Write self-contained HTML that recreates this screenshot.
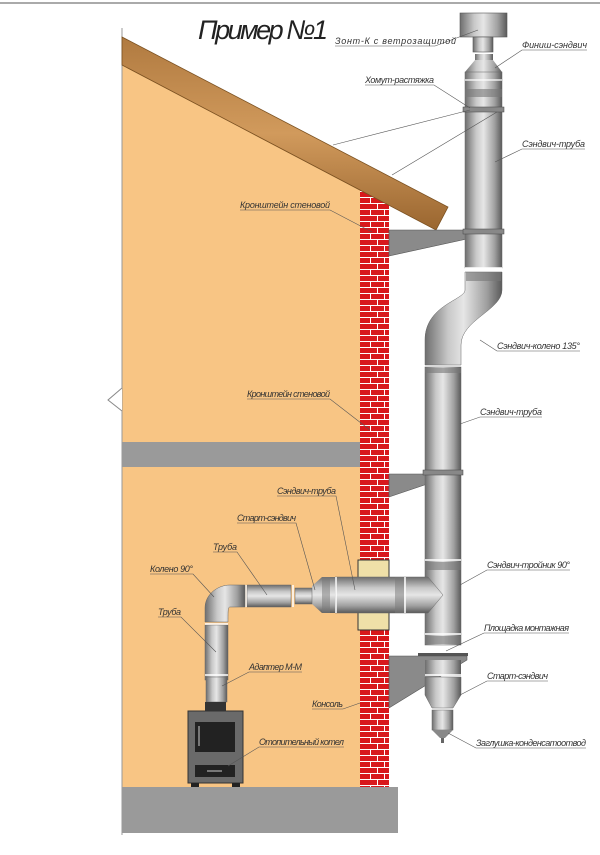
<!DOCTYPE html>
<html><head><meta charset="utf-8"><style>
html,body{margin:0;padding:0;background:#fff}
svg{display:block}
text{font-family:"Liberation Sans Narrow","Liberation Sans",sans-serif;font-style:italic;font-size:9px;fill:#333}
</style></head><body>
<svg width="600" height="855" viewBox="0 0 600 855" xmlns="http://www.w3.org/2000/svg">
<defs>
<linearGradient id="pv" x1="0" y1="0" x2="1" y2="0">
<stop offset="0" stop-color="#6e6e6e"/><stop offset="0.3" stop-color="#c8c8c8"/><stop offset="0.5" stop-color="#e6e6e6"/><stop offset="0.8" stop-color="#a0a0a0"/><stop offset="1" stop-color="#5a5a5a"/></linearGradient>
<linearGradient id="ph" x1="0" y1="0" x2="0" y2="1">
<stop offset="0" stop-color="#6e6e6e"/><stop offset="0.3" stop-color="#c8c8c8"/><stop offset="0.5" stop-color="#e6e6e6"/><stop offset="0.8" stop-color="#a0a0a0"/><stop offset="1" stop-color="#5a5a5a"/></linearGradient>
<linearGradient id="wood" x1="0" y1="0" x2="0" y2="1"><stop offset="0" stop-color="#b07a40"/><stop offset="0.5" stop-color="#d19a5c"/><stop offset="1" stop-color="#9a6630"/></linearGradient>
<pattern id="brick" width="28" height="12" patternUnits="userSpaceOnUse">
<rect width="28" height="12" fill="#fff"/>
<rect x="0" y="0" width="13" height="5" fill="#d8181c"/><rect x="14" y="0" width="14" height="5" fill="#d8181c"/>
<rect x="-7" y="6" width="13" height="5" fill="#d8181c"/><rect x="7" y="6" width="13" height="5" fill="#d8181c"/><rect x="21" y="6" width="13" height="5" fill="#d8181c"/>
</pattern>
</defs>
<rect x="0" y="2" width="600" height="2" fill="#aaa"/>
<polygon points="122,65 360,190 360,787 122,787" fill="#f8c584"/>
<line x1="122" y1="28" x2="122" y2="835" stroke="#999" stroke-width="1"/>
<polygon points="122,388 108,400 122,411" fill="#fff"/>
<polyline points="122,388 108,400 122,411" fill="none" stroke="#888"/>
<rect x="122" y="442" width="238" height="25" fill="#9a9a9a"/>
<rect x="122" y="787" width="276" height="46" fill="#9a9a9a"/>
<rect x="360" y="190" width="29" height="597" fill="url(#brick)"/>
<polygon points="122,37 448,207 436,230 122,65" fill="url(#wood)" stroke="#7a5020" stroke-width="0.8"/>
<text x="198" y="39" style="font-family:'Liberation Sans',sans-serif;font-size:27px;fill:#222;font-style:italic" textLength="130" lengthAdjust="spacing">Пример №1</text>
<polygon points="389,230 485,230 485,235 389,256" fill="#8a8a8a" stroke="#555" stroke-width="0.6"/>
<polygon points="389,474 445,474 445,478 389,497" fill="#8a8a8a" stroke="#555" stroke-width="0.6"/>
<rect x="460" y="13" width="47" height="24" fill="url(#pv)" stroke="#555" stroke-width="0.6"/>
<rect x="473" y="37" width="20" height="15" fill="url(#pv)" stroke="#555" stroke-width="0.6"/>
<rect x="475" y="54" width="18" height="6" fill="url(#pv)"/>
<polygon points="475,60 493,60 502,72 465,72" fill="url(#pv)"/>
<rect x="465" y="72" width="37" height="196" fill="url(#pv)" stroke="#666" stroke-width="0.5"/>
<rect x="465" y="89" width="37" height="8" fill="#777" opacity="0.6"/>
<rect x="463" y="107" width="41" height="5" fill="#888" stroke="#444" stroke-width="0.5"/>
<rect x="463" y="229" width="41" height="5" fill="#888" stroke="#444" stroke-width="0.5"/>
<line x1="465" y1="80" x2="502" y2="80" stroke="#fff" stroke-width="1.2"/>
<line x1="465" y1="268" x2="502" y2="268" stroke="#fff" stroke-width="1.5"/>
<path d="M465,272 L502,272 L502,290 C502,310 461,320 461,345 L461,365 L425,365 L425,340 C425,305 465,300 465,290 Z" fill="url(#pv)" stroke="#666" stroke-width="0.5"/>
<rect x="466" y="272" width="35" height="9" fill="#777" opacity="0.6"/>
<rect x="425" y="367" width="36" height="278" fill="url(#pv)" stroke="#666" stroke-width="0.5"/>
<rect x="425" y="368" width="36" height="5" fill="#777" opacity="0.6"/>
<rect x="423" y="470" width="40" height="5" fill="#888" stroke="#444" stroke-width="0.5"/>
<line x1="425" y1="560" x2="461" y2="560" stroke="#fff" stroke-width="1.5"/>
<rect x="425" y="562" width="36" height="8" fill="#777" opacity="0.6"/>
<line x1="425" y1="634" x2="461" y2="634" stroke="#fff" stroke-width="1.5"/>
<rect x="425" y="636" width="36" height="8" fill="#777" opacity="0.6"/>
<rect x="418" y="653" width="50" height="3" fill="#555"/>
<polygon points="389,656 467,656 467,660 389,708" fill="#8a8a8a" stroke="#555" stroke-width="0.6"/>
<rect x="425" y="660" width="36" height="16" fill="url(#pv)"/>
<line x1="425" y1="675" x2="461" y2="675" stroke="#fff" stroke-width="1.5"/>
<path d="M425,677 L461,677 L461,695 L453,708 L432,708 L425,695 Z" fill="url(#pv)" stroke="#666" stroke-width="0.5"/>
<rect x="432" y="710" width="21" height="20" fill="url(#pv)" stroke="#666" stroke-width="0.5"/>
<polygon points="432,730 453,730 445,738 440,738" fill="#888"/>
<rect x="441" y="738" width="3" height="5" fill="#666"/>
<rect x="358" y="560" width="31" height="70" fill="#efe0a8" stroke="#333" stroke-width="1"/>
<path d="M335,577 L428,577 L443,595 L428,613 L335,613 Z" fill="url(#ph)" stroke="#666" stroke-width="0.5"/>
<polygon points="312,586 322,577 335,577 335,613 322,613 312,604" fill="url(#ph)"/>
<line x1="336" y1="577" x2="336" y2="613" stroke="#fff" stroke-width="1.5"/>
<line x1="405" y1="577" x2="405" y2="613" stroke="#fff" stroke-width="1.5"/>
<rect x="395" y="577" width="9" height="36" fill="#777" opacity="0.5"/>
<rect x="322" y="577" width="8" height="36" fill="#777" opacity="0.5"/>
<rect x="295" y="588" width="17" height="16" fill="url(#ph)" stroke="#666" stroke-width="0.5"/>
<rect x="247" y="585" width="44" height="22" fill="url(#ph)" stroke="#666" stroke-width="0.5"/>
<line x1="246" y1="585" x2="246" y2="607" stroke="#fff" stroke-width="1.5"/>
<line x1="293" y1="585" x2="293" y2="607" stroke="#fff" stroke-width="1.5"/>
<path d="M245,585 L245,607 L230,607 C228,607 228,610 228,622 L205,622 L205,608 C205,594 218,585 230,585 Z" fill="url(#pv)" stroke="#666" stroke-width="0.5"/>
<rect x="205" y="625" width="23" height="55" fill="url(#pv)" stroke="#666" stroke-width="0.5"/>
<line x1="205" y1="624" x2="228" y2="624" stroke="#fff" stroke-width="1.5"/>
<line x1="205" y1="675" x2="228" y2="675" stroke="#fff" stroke-width="1.5"/>
<rect x="206" y="677" width="21" height="25" fill="url(#pv)" stroke="#666" stroke-width="0.5"/>
<rect x="205" y="702" width="21" height="9" fill="#333"/>
<rect x="188" y="711" width="55" height="72" fill="#6a6a6a" stroke="#333" stroke-width="1"/>
<rect x="195" y="722" width="40" height="30" fill="#222"/>
<line x1="199" y1="726" x2="199" y2="746" stroke="#ccc" stroke-width="1"/>
<rect x="195" y="765" width="40" height="12" fill="#222"/>
<line x1="207" y1="771" x2="222" y2="771" stroke="#ccc" stroke-width="1"/>
<rect x="191" y="783" width="8" height="4" fill="#222"/><rect x="232" y="783" width="8" height="4" fill="#222"/>
<g stroke="#555" stroke-width="0.6" fill="none">
<polyline points="335,46 435,46 478,30"/>
<polyline points="587,50 522,50 495,68"/>
<polyline points="365,85 434,85 470,108"/>
<line x1="470" y1="110" x2="333" y2="145"/>
<line x1="497" y1="112" x2="392" y2="175"/>
<polyline points="585,149 522,149 495,162"/>
<polyline points="240,210 330,210 372,232"/>
<polyline points="580,351 497,351 480,340"/>
<polyline points="247,399 330,399 370,430"/>
<polyline points="542,417 480,417 460,424"/>
<polyline points="277,496 336,496 355,590"/>
<polyline points="237,523 296,523 315,590"/>
<polyline points="213,552 237,552 267,595"/>
<polyline points="150,574 193,574 214,597"/>
<polyline points="158,617 181,617 216,652"/>
<polyline points="570,570 487,570 460,585"/>
<polyline points="569,633 484,633 446,651"/>
<polyline points="302,672 249,672 222,686"/>
<polyline points="548,681 487,681 460,695"/>
<polyline points="312,709 343,709 360,703"/>
<polyline points="344,747 259,747 228,766"/>
<polyline points="586,748 476,748 448,733"/>
</g>
<text x="335" y="44" textLength="121">Зонт-К с ветрозащитой</text>
<text x="522" y="48" textLength="65">Финиш-сэндвич</text>
<text x="365" y="83" textLength="69">Хомут-растяжка</text>
<text x="522" y="147" textLength="63">Сэндвич-труба</text>
<text x="240" y="208" textLength="90">Кронштейн стеновой</text>
<text x="497" y="349" textLength="83">Сэндвич-колено 135°</text>
<text x="247" y="397" textLength="83">Кронштейн стеновой</text>
<text x="480" y="415" textLength="62">Сэндвич-труба</text>
<text x="277" y="494" textLength="59">Сэндвич-труба</text>
<text x="237" y="521" textLength="59">Старт-сэндвич</text>
<text x="213" y="550" textLength="24">Труба</text>
<text x="150" y="572" textLength="43">Колено 90°</text>
<text x="158" y="615" textLength="23">Труба</text>
<text x="487" y="568" textLength="83">Сэндвич-тройник 90°</text>
<text x="484" y="631" textLength="85">Площадка монтажная</text>
<text x="249" y="670" textLength="53">Адаптер М-М</text>
<text x="487" y="679" textLength="61">Старт-сэндвич</text>
<text x="312" y="707" textLength="31">Консоль</text>
<text x="259" y="745" textLength="85">Отопительный котел</text>
<text x="476" y="746" textLength="110">Заглушка-конденсатоотвод</text>
</svg>
</body></html>
